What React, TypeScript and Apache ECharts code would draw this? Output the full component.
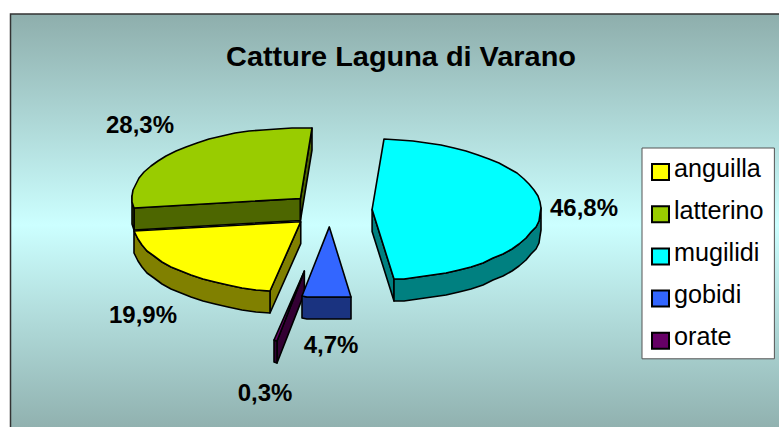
import React, { useEffect, useRef } from "react";
import * as echarts from "echarts";

const categories = ["anguilla", "latterino", "mugilidi", "gobidi", "orate"];
const shares = [19.9, 28.3, 46.8, 4.7, 0.3];
const explosion = [0.24, 0.24, 0.25, 0.24, 0.88];
const topColors = ["#FFFF00", "#99CC00", "#00FFFF", "#3366FF", "#660066"];
const sideColors = ["#808000", "#4D6600", "#008080", "#1A3380", "#330033"];
const labelCentres = [[143, 314], [140, 124], [584, 207], [331, 344], [265, 392]];
const drawOrder = [1, 0, 4, 3, 2];

const FONT = "'Liberation Sans', Arial, sans-serif";
const CX = 330;
const CY = 210;
const RX = 168.5;
const RY = 70.5;
const DEPTH = 22;
const START_ANGLE = 190.5;
const STEP = 5;

const rad = (d: number) => (d * Math.PI) / 180;
const formatShare = (v: number) => v.toFixed(1).replace(".", ",") + "%";

function sliceStart(index: number) {
  const before = shares.slice(0, index).reduce((a, b) => a + b, 0);
  const total = shares.reduce((a, b) => a + b, 0);
  return START_ANGLE + (before / total) * 360;
}

function buildSlice(index: number, value: number) {
  const from = sliceStart(index);
  const to = from + (value / 100) * 360;
  const mid = (from + to) / 2;
  const e = explosion[index];
  const ax = CX + RX * Math.sin(rad(mid)) * e;
  const ay = CY - RY * Math.cos(rad(mid)) * e;
  const at = (t: number): number[] => [
    Math.round(ax + RX * Math.sin(rad(t))),
    Math.round(ay - RY * Math.cos(rad(t))),
  ];
  const arc: number[][] = [];
  for (let t = from; t < to; t += STEP) arc.push(at(t));
  arc.push(at(to));

  const apex = [ax, ay];
  const down = (p: number[]) => [p[0], p[1] + DEPTH];
  const stroke = { stroke: "#000", lineWidth: 1.6, lineJoin: "round" };
  const side = sideColors[index];
  const faces: any[] = [];
  const face = (pts: number[][]) => {
    faces.push({
      type: "polygon",
      shape: { points: [...pts, ...pts.slice().reverse().map(down)] },
      style: { fill: side, ...stroke },
    });
  };
  // An edge of the clockwise outline faces the viewer when it runs leftwards.
  if (arc[0][0] < apex[0]) face([apex, arc[0]]);
  const last = arc[arc.length - 1];
  if (last[0] > apex[0]) face([last, apex]);
  let chain: number[][] = [];
  for (let i = 0; i + 1 < arc.length; i++) {
    if (arc[i + 1][0] <= arc[i][0]) {
      if (!chain.length) chain.push(arc[i]);
      chain.push(arc[i + 1]);
    } else if (chain.length) {
      face(chain);
      chain = [];
    }
  }
  if (chain.length) face(chain);

  faces.push({
    type: "polygon",
    shape: { points: [apex, ...arc] },
    style: { fill: topColors[index], ...stroke },
  });
  const [lx, ly] = labelCentres[index];
  faces.push({
    type: "text",
    style: {
      text: formatShare(value),
      x: lx,
      y: ly,
      align: "center",
      verticalAlign: "middle",
      fontFamily: FONT,
      fontWeight: "bold",
      fontSize: 24,
      fill: "#000",
    },
  });
  return { type: "group", children: faces };
}

export default function App() {
  const ref = useRef<HTMLDivElement>(null);
  useEffect(() => {
    const chart = echarts.init(ref.current!, undefined, { renderer: "svg" });
    chart.setOption({
      animation: false,
      backgroundColor: "#fff",
      graphic: [
        {
          type: "rect",
          z: -10,
          shape: { x: 10.5, y: 14, width: 800, height: 422 },
          style: {
            fill: new echarts.graphic.LinearGradient(0, 0, 0, 1, [
              { offset: 0, color: "#8EAEAC" },
              { offset: 0.5, color: "#CCFFFF" },
              { offset: 1, color: "#8EAEAC" },
            ]),
            stroke: "#333",
            lineWidth: 1.5,
          },
        },
        {
          type: "text",
          z: 10,
          x: 401,
          y: 57,
          scaleX: 1.07,
          style: {
            text: "Catture Laguna di Varano",
            x: 0,
            y: 0,
            align: "center",
            verticalAlign: "middle",
            fontFamily: FONT,
            fontWeight: "bold",
            fontSize: 27,
            fill: "#000",
          },
        },
      ],
      legend: {
        data: categories,
        orient: "vertical",
        left: 642,
        top: 148,
        padding: [7, 10.5, 9, 9],
        icon: "rect",
        itemWidth: 17,
        itemHeight: 16,
        itemGap: 16.2,
        selectedMode: false,
        backgroundColor: "#fff",
        borderColor: "#555",
        borderWidth: 1,
        itemStyle: { borderColor: "#000", borderWidth: 2 },
        formatter: "{t|{name}}{s| }",
        textStyle: {
          fontFamily: FONT,
          fontSize: 25.2,
          color: "#000",
          rich: {
            t: {
              fontFamily: FONT,
              fontSize: 25.2,
              color: "#000",
              lineHeight: 28,
              verticalAlign: "top",
            },
            s: { fontSize: 1, lineHeight: 34, width: 0 },
          },
        },
      },
      series: drawOrder.map((i) => ({
        type: "custom",
        name: categories[i],
        coordinateSystem: "none",
        silent: true,
        clip: false,
        itemStyle: { color: topColors[i] },
        data: [[shares[i]]],
        renderItem: (_p: any, api: any) => buildSlice(i, api.value(0)),
      })),
    });
    return () => chart.dispose();
  }, []);
  return <div ref={ref} style={{ position: "fixed", left: 0, top: 0, width: 779, height: 427 }} />;
}
